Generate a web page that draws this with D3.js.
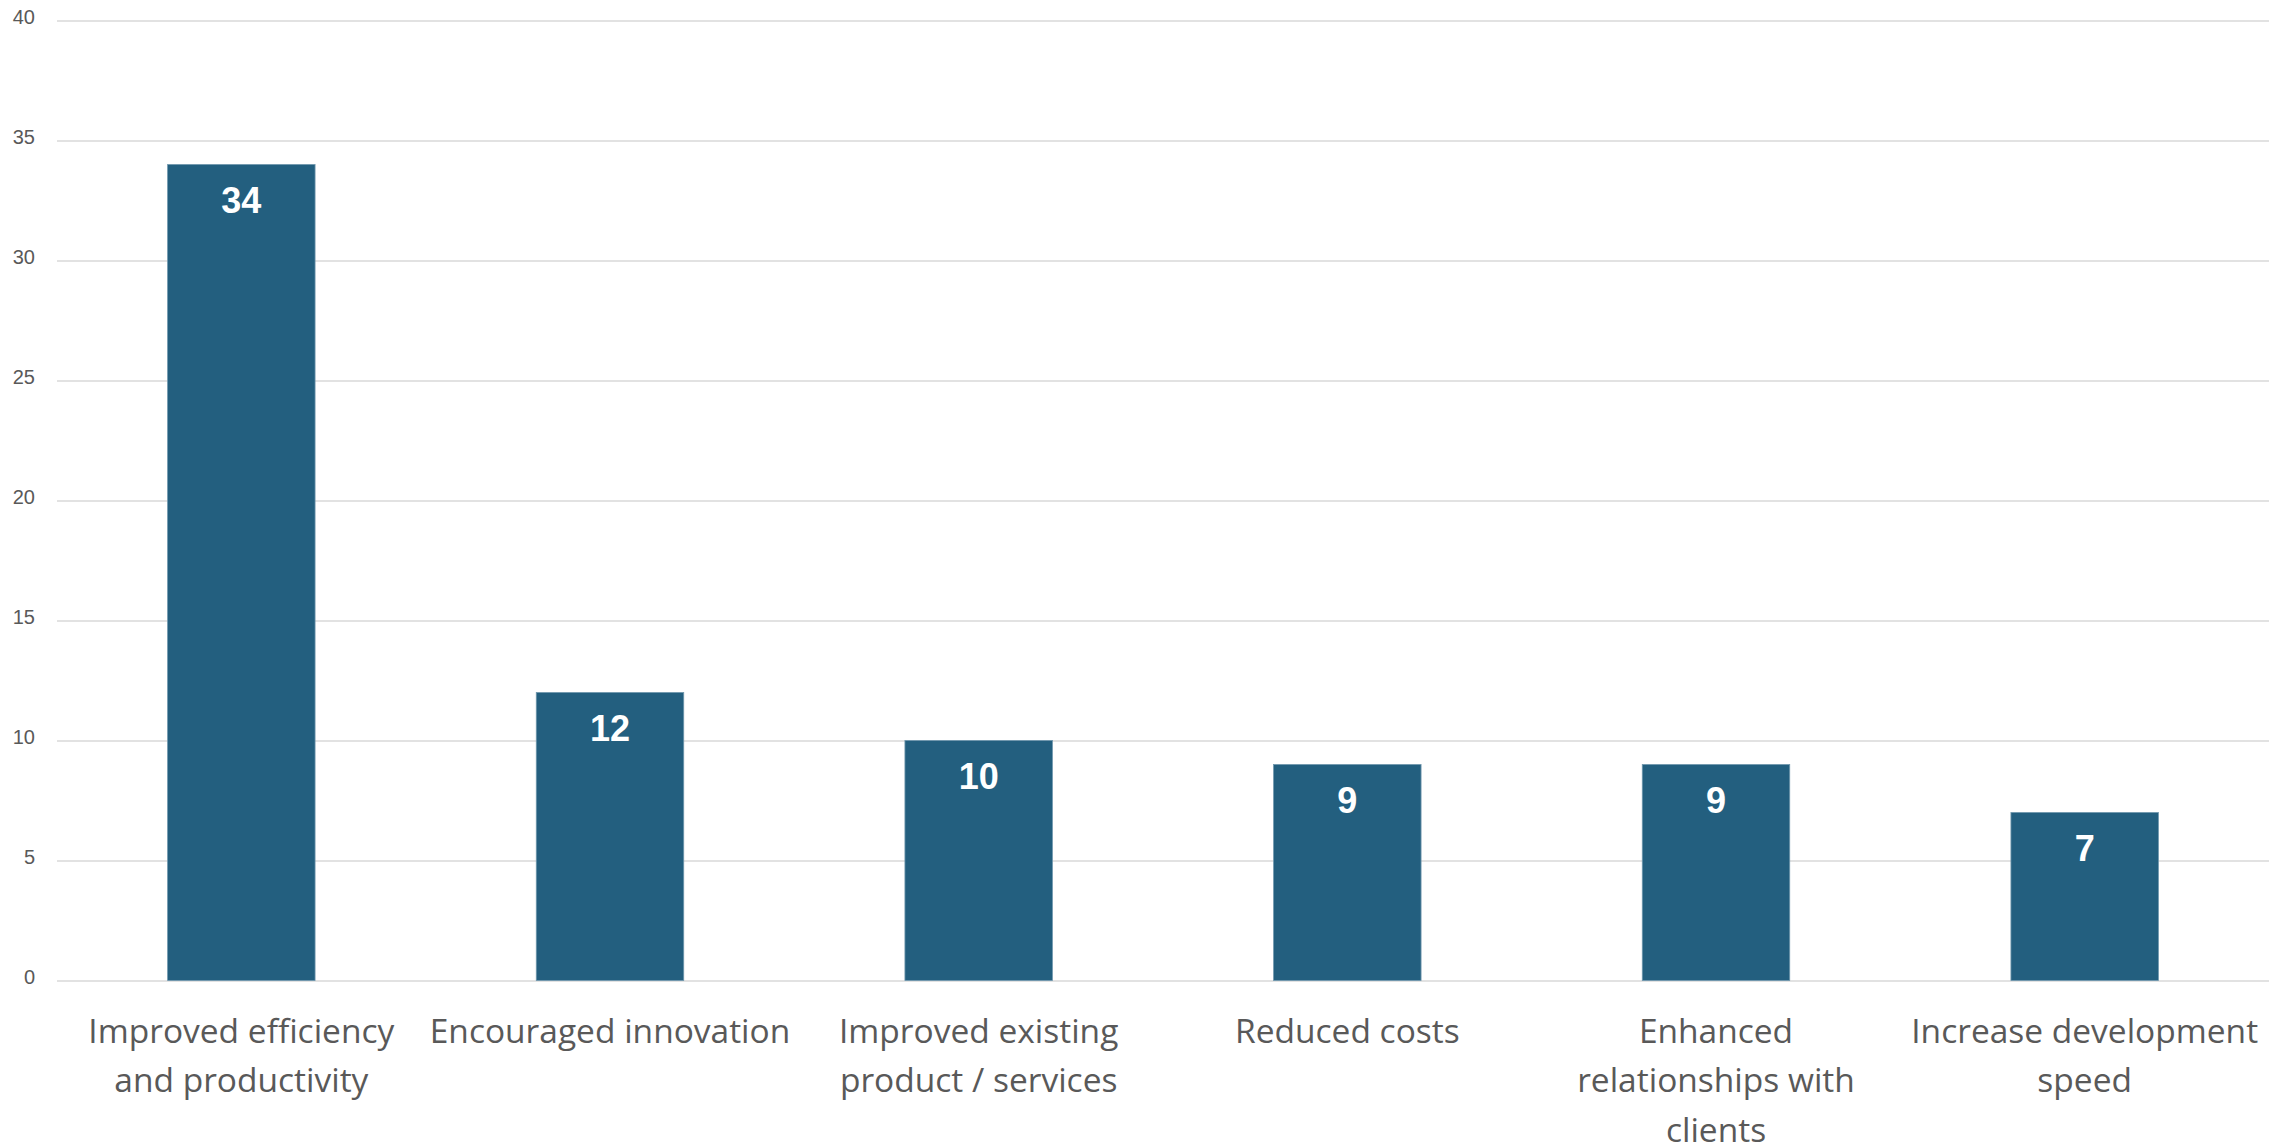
<!DOCTYPE html>
<html>
  <head>
    <title>Bar chart</title>
    <script src="https://d3js.org/d3.v7.min.js"></script>
    <style>
      body { margin: 0; background: #fff; }
      .tick-label { font-family: 'Liberation Sans', Arial, sans-serif; font-size: 20px; fill: #595959; }
      .cat-label { font-family: 'Open Sans', sans-serif; font-size: 33.5px; fill: #595959; }
      .value-label { font-family: 'Liberation Sans', Arial, sans-serif; font-size: 36px; font-weight: bold; fill: #fff; }
    </style>
  </head>
  <body>
    <svg></svg>
    <script>
      // data
      const categories = [
        ['Improved efficiency', 'and productivity'],
        ['Encouraged innovation'],
        ['Improved existing', 'product / services'],
        ['Reduced costs'],
        ['Enhanced', 'relationships with', 'clients'],
        ['Increase development', 'speed']
      ];
      const values = [34, 12, 10, 9, 9, 7];
      const yTicks = [0, 5, 10, 15, 20, 25, 30, 35, 40];

      const width = 2279, height = 1144;
      const svg = d3.select('svg')
        .attr('width', width)
        .attr('height', height);

      const margin = { top: 20.5, right: 10, bottom: 163.5, left: 57 };
      const innerWidth = width - margin.left - margin.right;
      const innerHeight = height - margin.top - margin.bottom;

      const idx = d3.range(values.length);

      const xScale = d3.scaleBand()
        .domain(idx)
        .range([0, innerWidth])
        .paddingInner(0.6)
        .paddingOuter(0.3);

      const yScale = d3.scaleLinear()
        .domain([0, 40])
        .range([innerHeight, 0]);

      const g = svg.append('g')
        .attr('transform', `translate(${margin.left},${margin.top})`);

      // gridlines + tick labels
      const yAxis = d3.axisLeft(yScale)
        .tickValues(yTicks)
        .tickSize(-innerWidth)
        .tickPadding(22);

      const yAxisG = g.append('g').call(yAxis);
      yAxisG.select('.domain').remove();
      yAxisG.selectAll('.tick line')
        .attr('stroke', '#d9d9d9')
        .attr('stroke-width', 1.5);
      yAxisG.selectAll('.tick text')
        .attr('class', 'tick-label')
        .attr('fill', null)
        .attr('dy', '0.15em');
      yAxisG.attr('font-size', null).attr('font-family', null);

      // bars
      g.selectAll('rect.bar').data(idx)
        .enter().append('rect')
          .attr('class', 'bar')
          .attr('x', i => xScale(i))
          .attr('y', i => yScale(values[i]))
          .attr('width', xScale.bandwidth())
          .attr('height', i => innerHeight - yScale(values[i]))
          .attr('fill', '#235f7f')
          .attr('stroke', '#6f97ad')
          .attr('stroke-width', 0.8);

      // value labels
      g.selectAll('text.value-label').data(idx)
        .enter().append('text')
          .attr('class', 'value-label')
          .attr('x', i => xScale(i) + xScale.bandwidth() / 2)
          .attr('y', i => yScale(values[i]) + 48)
          .attr('text-anchor', 'middle')
          .text(i => values[i]);

      // category labels
      const catG = g.selectAll('text.cat-label').data(idx)
        .enter().append('text')
          .attr('class', 'cat-label')
          .attr('text-anchor', 'middle')
          .attr('transform', i => `translate(${xScale(i) + xScale.bandwidth() / 2},${innerHeight + 62})`);

      catG.selectAll('tspan')
        .data(i => categories[i])
        .enter().append('tspan')
          .attr('x', 0)
          .attr('y', (d, j) => j * 49.5)
          .text(d => d);
    </script>
  </body>
</html>
